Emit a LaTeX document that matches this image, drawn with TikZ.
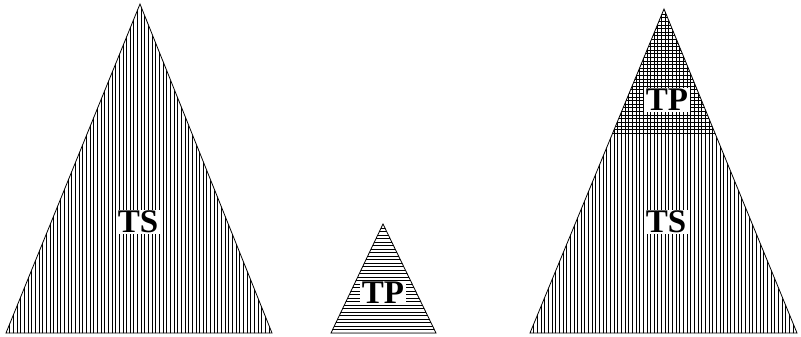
\documentclass[tikz,border=0pt]{standalone}
\usepackage{fontspec}
\setmainfont{Liberation Serif}
\begin{document}
\begin{tikzpicture}[x=1pt,y=-1pt,
  outline/.style={draw=black,line width=0.8pt,line join=miter},
  hatch/.style={black,line width=0.6pt},
  lbl/.style={fill=white,inner xsep=2pt,inner ysep=1pt,font=\bfseries\fontsize{33}{33}\selectfont}]
\useasboundingbox (0,0) rectangle (801,337);
% left triangle
\begin{scope}
  \clip (140,4) -- (272,333) -- (6,333) -- cycle;
  \foreach \x in {6,9.65,...,272} \draw[hatch] (\x,0) -- (\x,337);
\end{scope}
\draw[outline] (140,4) -- (272,333) -- (6,333) -- cycle;
% middle triangle
\begin{scope}
  \clip (383,224) -- (436,333) -- (331,333) -- cycle;
  \foreach \y in {333,329.5,...,222} \draw[hatch] (325,\y) -- (440,\y);
\end{scope}
\draw[outline] (383,224) -- (436,333) -- (331,333) -- cycle;
% right triangle
\begin{scope}
  \clip (664,9) -- (797,333) -- (530,333) -- cycle;
  \foreach \x in {530,533.65,...,797} \draw[hatch] (\x,0) -- (\x,337);
  \clip (520,0) rectangle (810,133);
  \foreach \y in {133,129.4,...,5} \draw[hatch] (520,\y) -- (810,\y);
\end{scope}
\draw[outline] (664,9) -- (797,333) -- (530,333) -- cycle;
% labels
\node[lbl] (tsL) at (138,222) {TS};
\node[lbl] (tpM) at (383,293) {TP};
\node[lbl] (tpR) at (667,100) {TP};
\node[lbl] (tsR) at (666,222) {TS};
\end{tikzpicture}
\end{document}
